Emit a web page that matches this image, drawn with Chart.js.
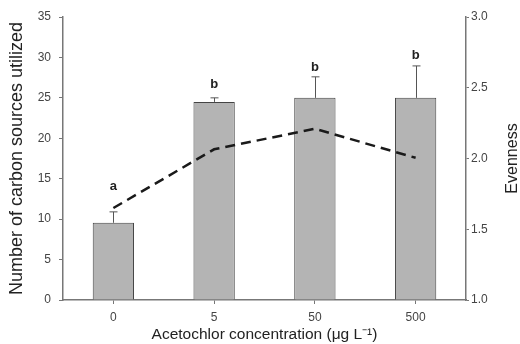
<!DOCTYPE html>
<html>
<head>
<meta charset="utf-8">
<script src="https://cdn.jsdelivr.net/npm/chart.js@4/dist/chart.umd.min.js"></script>
<style>
  body { margin: 0; background: #fff; }
  canvas { display: block; }
</style>
</head>
<body>
<canvas id="myChart" width="520" height="344"></canvas>
<script>
// data
const concentrations = ['0', '5', '50', '500'];
const carbonSources = [9.55, 24.5, 25.0, 25.0];
const carbonSourcesSE = [1.35, 0.5, 2.6, 3.95];
const evenness = [1.65, 2.065, 2.21, 2.005];
const sigLetters = ['a', 'b', 'b', 'b'];
const sigLetterY = [14.0, 26.7, 28.8, 30.2];

const FONT = 'Arial, "Liberation Sans", sans-serif';

// one-sided error bars + significance letters
const errorBars = {
  id: 'errorBars',
  afterDatasetsDraw(chart) {
    const c = chart.ctx;
    const meta = chart.getDatasetMeta(0);
    const y = chart.scales.y;
    c.save();
    c.strokeStyle = '#555';
    c.lineWidth = 1;
    meta.data.forEach((bar, i) => {
      const x = Math.round(bar.x) + 0.5;
      const top = y.getPixelForValue(carbonSources[i] + carbonSourcesSE[i]);
      c.beginPath();
      c.moveTo(x, bar.y);
      c.lineTo(x, top);
      c.moveTo(x - 4, top);
      c.lineTo(x + 4, top);
      c.stroke();
    });
    c.fillStyle = '#222';
    c.font = 'bold 13px ' + FONT;
    c.textAlign = 'center';
    c.textBaseline = 'middle';
    meta.data.forEach((bar, i) => {
      c.fillText(sigLetters[i], bar.x, y.getPixelForValue(sigLetterY[i]));
    });
    c.restore();
  },
  afterDraw(chart) {
    // right axis title
    const c = chart.ctx;
    const area = chart.chartArea;
    c.save();
    c.translate(513, (area.top + area.bottom) / 2);
    c.rotate(-Math.PI / 2);
    c.fillStyle = '#222';
    c.font = '16px ' + FONT;
    c.textAlign = 'center';
    c.textBaseline = 'middle';
    c.fillText('Evenness', 0, 0);
    c.restore();
  }
};

let ctx = document.getElementById('myChart');

const chart = new Chart(ctx, {
  type: 'bar',
  data: {
    labels: concentrations,
    datasets: [
      {
        type: 'bar',
        data: carbonSources,
        yAxisID: 'y',
        backgroundColor: '#b4b4b4',
        borderColor: '#444',
        borderWidth: 1,
        categoryPercentage: 1,
        barPercentage: 0.41,
        order: 1,
      },
      {
        type: 'line',
        data: evenness,
        yAxisID: 'y1',
        borderColor: '#1a1a1a',
        borderWidth: 2.5,
        borderDash: [10, 6],
        pointRadius: 0,
        fill: false,
        tension: 0,
        order: 0,
      }
    ]
  },
  options: {
    responsive: false,
    animation: false,
    layout: { padding: { top: 17 } },
    plugins: {
      legend: { display: false },
      tooltip: { enabled: false },
    },
    scales: {
      x: {
        afterFit(scale) { scale.height = 44; },
        grid: { display: true, drawOnChartArea: false, offset: false, tickLength: 4, color: '#777' },
        border: { display: true, color: '#777', width: 1.5 },
        ticks: { color: '#444', padding: 6, font: { family: FONT, size: 12 } },
        title: {
          display: true,
          text: 'Acetochlor concentration (\u03bcg L\u207b\u00b9)',
          color: '#222',
          padding: { top: 0, bottom: 0 },
          font: { family: FONT, size: 15.5 },
        },
      },
      y: {
        position: 'left',
        min: 0,
        max: 35,
        afterFit(scale) { scale.width = 63; },
        grid: { display: true, drawOnChartArea: false, tickLength: 4, color: '#777' },
        border: { display: true, color: '#777', width: 1.5 },
        ticks: { stepSize: 5, color: '#444', padding: 8, font: { family: FONT, size: 12 } },
        title: {
          display: true,
          text: 'Number of carbon sources utilized',
          color: '#222',
          padding: { top: 6, bottom: 0 },
          font: { family: FONT, size: 18 },
        },
      },
      y1: {
        position: 'right',
        min: 1,
        max: 3,
        afterFit(scale) { scale.width = 54; },
        grid: { display: true, drawOnChartArea: false, tickLength: 3, color: '#777' },
        border: { display: true, color: '#777', width: 1.5 },
        ticks: {
          stepSize: 0.5,
          color: '#444',
          padding: 2,
          font: { family: FONT, size: 12 },
          callback: (v) => v.toFixed(1),
        },
      },
    },
  },
  plugins: [errorBars],
});
</script>
</body>
</html>
